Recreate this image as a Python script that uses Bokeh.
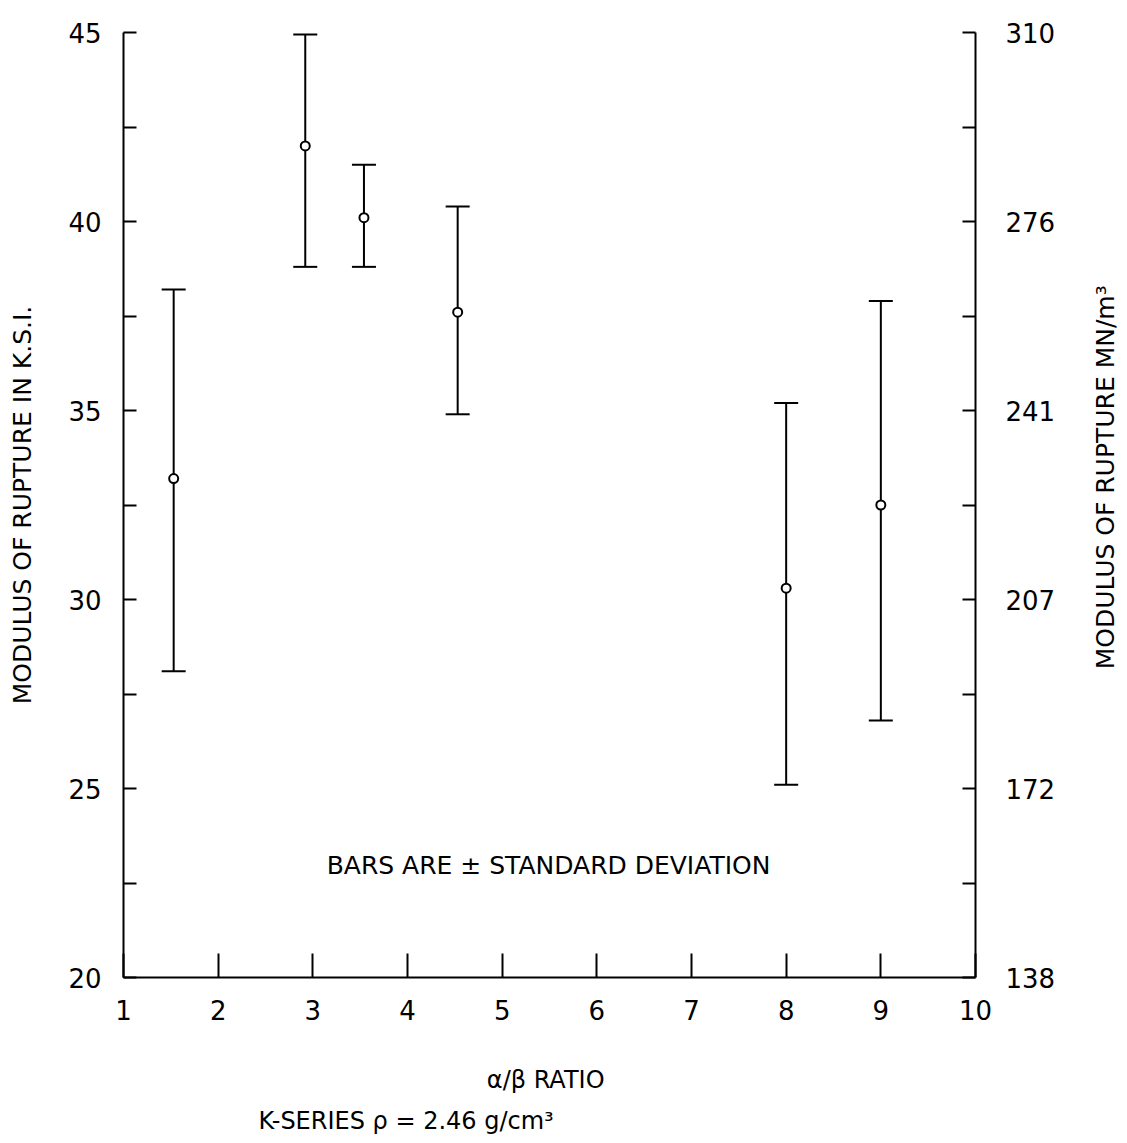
import math
from bokeh.plotting import figure
from bokeh.layouts import row
from bokeh.models import (LinearAxis, FixedTicker, Whisker, ColumnDataSource,
                          Label, Title, Range1d, TeeHead)
from bokeh.embed import file_html
from bokeh.resources import INLINE

# ---- data ----
ratio = [1.53, 2.92, 3.54, 4.53, 8.0, 9.0]          # alpha/beta ratio
mor_mean = [33.2, 42.0, 40.1, 37.6, 30.3, 32.5]      # KSI
mor_upper = [38.2, 44.95, 41.5, 40.4, 35.2, 37.9]    # mean + SD
mor_lower = [28.1, 38.8, 38.8, 34.9, 25.1, 26.8]     # mean - SD

x_ticks = [1, 2, 3, 4, 5, 6, 7, 8, 9, 10]
y_ticks = [20, 22.5, 25, 27.5, 30, 32.5, 35, 37.5, 40, 42.5, 45]
left_labels = {20: "20", 25: "25", 30: "30", 35: "35", 40: "40", 45: "45"}
right_labels = {20: "138", 25: "172", 30: "207", 35: "241", 40: "276", 45: "310"}

FONT = "DejaVu Sans"

p = figure(width=1080, height=1143, x_range=Range1d(1, 10), y_range=Range1d(20, 45),
           output_backend="svg", toolbar_location=None,
           x_axis_location=None, y_axis_location=None,
           min_border_left=123, min_border_right=105, min_border_top=32,
           min_border_bottom=166)
p.outline_line_color = None
p.grid.visible = False
p.background_fill_color = "white"
p.border_fill_color = "white"


def style_axis(ax, tick_in):
    ax.axis_line_width = 2
    ax.axis_line_color = "black"
    ax.major_tick_line_width = 2
    ax.major_tick_line_color = "black"
    ax.major_tick_in = tick_in
    ax.major_tick_out = 0
    ax.minor_tick_in = 0
    ax.minor_tick_out = 0
    ax.major_label_text_font = FONT
    ax.major_label_text_font_size = "26px"
    ax.major_label_text_color = "black"
    ax.axis_label_text_font = FONT
    ax.axis_label_text_font_size = "24px"
    ax.axis_label_text_font_style = "normal"
    ax.axis_label_text_color = "black"


# bottom axis
xa = LinearAxis(ticker=FixedTicker(ticks=x_ticks), axis_label="α/β  RATIO")
style_axis(xa, 24)
xa.major_label_standoff = 22
xa.axis_label_standoff = 43
p.add_layout(xa, "below")

# left axis
ya = LinearAxis(ticker=FixedTicker(ticks=y_ticks),
                axis_label="MODULUS OF RUPTURE IN K.S.I.")
ya.major_label_overrides = {t: left_labels.get(t, "") for t in y_ticks}
style_axis(ya, 13)
ya.axis_label_text_font_size = "25px"
ya.major_label_standoff = 22
ya.axis_label_standoff = 28
p.add_layout(ya, "left")

# right axis (same scale, labels in MN/m^2 equivalents)
ra = LinearAxis(ticker=FixedTicker(ticks=y_ticks))
ra.major_label_overrides = {t: right_labels.get(t, "") for t in y_ticks}
style_axis(ra, 13)
ra.major_label_standoff = 30
p.add_layout(ra, "right")

p.add_layout(Title(text="K-SERIES   ρ = 2.46 g/cm³", align="left", offset=135,
                   text_font=FONT, text_font_size="24px", text_font_style="normal",
                   text_color="black", standoff=17), "below")

# in-plot note
p.add_layout(Label(x=5.49, y=22.96, text="BARS ARE ± STANDARD DEVIATION",
                   text_font=FONT, text_font_size="25px", text_align="center",
                   text_baseline="middle", text_color="black"))

src = ColumnDataSource(dict(x=ratio, y=mor_mean, upper=mor_upper, lower=mor_lower))
p.add_layout(Whisker(base="x", upper="upper", lower="lower", source=src,
                     dimension="height", line_width=2, line_color="black",
                     upper_head=TeeHead(size=24, line_width=2, line_color="black"),
                     lower_head=TeeHead(size=24, line_width=2, line_color="black")))
p.scatter("x", "y", source=src, marker="circle", size=9, fill_color="white",
          line_color="black", line_width=2)

# narrow strip holding the right-hand axis title, reading bottom-to-top
p2 = figure(width=43, height=1143, x_range=Range1d(0, 43), y_range=Range1d(0, 1143),
            output_backend="svg", toolbar_location=None,
            x_axis_location=None, y_axis_location=None, min_border=0)
p2.outline_line_color = None
p2.grid.visible = False
p2.add_layout(Label(x=25, y=605, text="MODULUS OF RUPTURE MN/m³", angle=math.pi / 2,
                    text_font=FONT, text_font_size="25px", text_align="center",
                    text_baseline="middle", text_color="black"))

layout = row(p, p2, spacing=0)
open("out.html", "w").write(file_html(layout, INLINE))
